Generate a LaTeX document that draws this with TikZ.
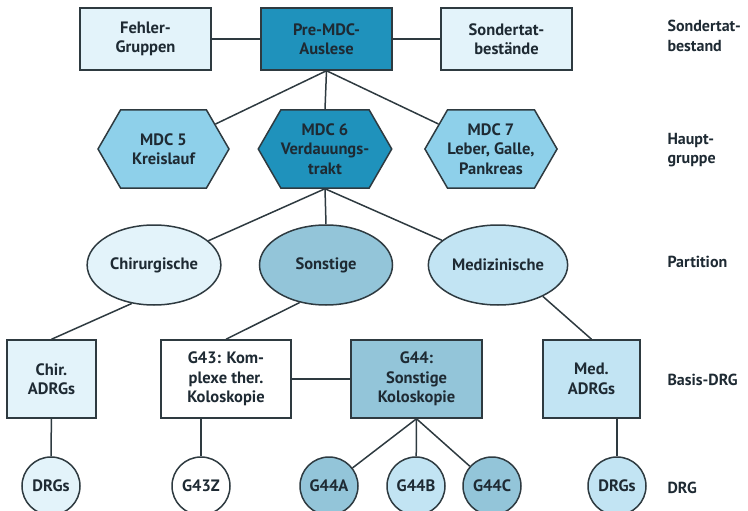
\documentclass[tikz,border=0pt]{standalone}
\usepackage{fontspec}
\setmainfont{PT Sans}
\usepackage{tikz}
\usetikzlibrary{shapes.geometric,shapes.symbols}
\definecolor{DrgInk}{HTML}{1E2A33}
\definecolor{DrgLine}{HTML}{2E3A40}
\definecolor{DrgDark}{HTML}{1F92BC}
\definecolor{DrgMid}{HTML}{8ED0EA}
\definecolor{DrgSoft}{HTML}{C2E4F3}
\definecolor{DrgPale}{HTML}{E3F3FA}
\definecolor{DrgGrey}{HTML}{93C5D9}

\tikzset{
  every node/.style={font=\fontsize{16.5}{19.5}\selectfont\bfseries, text=DrgInk, align=center},
  drgbox/.style={draw=DrgLine, line width=1.5pt, rectangle, minimum height=78pt, inner sep=2pt},
  drghex/.style={draw=DrgLine, line width=1.5pt, signal, signal to=west and east,
    signal pointer angle=120, minimum width=131pt, minimum height=78pt, inner sep=0pt},
  drgoval/.style={draw=DrgLine, line width=1.5pt, ellipse, minimum width=133pt, minimum height=80pt},
  drgdot/.style={draw=DrgLine, line width=1.5pt, circle, minimum size=58pt, inner sep=0pt},
  levellabel/.style={anchor=west, align=left, font=\fontsize{16}{19.5}\selectfont\bfseries},
  link/.style={draw=DrgLine, line width=1.5pt}
}

\begin{document}
\begin{tikzpicture}[x=1pt, y=-1pt]
  \useasboundingbox (0,0) rectangle (748,511);

  % Sondertatbestand
  \node[drgbox, fill=DrgPale, minimum width=131pt, minimum height=62pt] (fehler) at (145.5,39) {Fehler-\\Gruppen};
  \node[drgbox, fill=DrgDark, minimum width=131pt, minimum height=62pt] (premdc) at (326.5,39) {Pre-MDC-\\Auslese};
  \node[drgbox, fill=DrgPale, minimum width=131pt, minimum height=62pt] (sonder) at (506.5,39) {Sondertat-\\bestände};

  % Hauptgruppe
  \node[drghex, fill=DrgMid] (mdc5) at (163.5,149) {MDC 5\\Kreislauf};
  \node[drghex, fill=DrgDark] (mdc6) at (325,149) {MDC 6\\Verdauungs-\\trakt};
  \node[drghex, fill=DrgMid] (mdc7) at (491,149) {MDC 7\\Leber, Galle,\\Pankreas};

  % Partition
  \node[drgoval, fill=DrgPale] (chir) at (154,265) {Chirurgische};
  \node[drgoval, fill=DrgGrey] (sonst) at (326,265) {Sonstige};
  \node[drgoval, fill=DrgSoft] (medi) at (498,265) {Medizinische};

  % Basis-DRG
  \node[drgbox, fill=DrgPale, minimum width=89pt] (chiradrg) at (51.5,379) {Chir.\\ADRGs};
  \node[drgbox, fill=white, minimum width=130pt] (g43) at (226,379) {G43: Kom-\\plexe ther.\\Koloskopie};
  \node[drgbox, fill=DrgGrey, minimum width=131pt] (g44) at (416.5,379) {G44:\\Sonstige\\Koloskopie};
  \node[drgbox, fill=DrgSoft, minimum width=97pt] (medadrg) at (591.5,379) {Med.\\ADRGs};

  % DRG
  \node[drgdot, fill=DrgPale] (drgl) at (51,486) {DRGs};
  \node[drgdot, fill=white] (g43z) at (201,486) {G43Z};
  \node[drgdot, fill=DrgGrey] (g44a) at (329,486) {G44A};
  \node[drgdot, fill=DrgSoft] (g44b) at (416,486) {G44B};
  \node[drgdot, fill=DrgGrey] (g44c) at (492,486) {G44C};
  \node[drgdot, fill=DrgSoft] (drgr) at (617,486) {DRGs};

  % Ebenen
  \node[levellabel] (lvsonder) at (664,36) {Sondertat-\\bestand};
  \node[levellabel] (lvhaupt) at (664,150) {Haupt-\\gruppe};
  \node[levellabel] (lvpart) at (664,262) {Partition};
  \node[levellabel] (lvbasis) at (664,380) {Basis-DRG};
  \node[levellabel] (lvdrg) at (664,488) {DRG};

  % Verbindungen
  \path[link] (fehler) -- (premdc) -- (sonder);
  \path[link] (premdc.south) -- (mdc5);
  \path[link] (premdc.south) -- (mdc6.north);
  \path[link] (premdc.south) -- (mdc7);
  \path[link] (mdc6.south) -- (chir);
  \path[link] (mdc6.south) -- (sonst.north);
  \path[link] (mdc6.south) -- (medi);
  \path[link] (chir.-120) -- (chiradrg.north);
  \path[link] (sonst.-125) -- (g43.north);
  \path[link] (medi.-35) -- (medadrg.north);
  \path[link] (g43) -- (g44);
  \path[link] (chiradrg) -- (drgl);
  \path[link] (g43.south -| g43z) -- (g43z);
  \path[link] (g44.south) -- (g44a);
  \path[link] (g44.south) -- (g44b);
  \path[link] (g44.south) -- (g44c);
  \path[link] (medadrg.south -| drgr) -- (drgr);
\end{tikzpicture}
\end{document}
